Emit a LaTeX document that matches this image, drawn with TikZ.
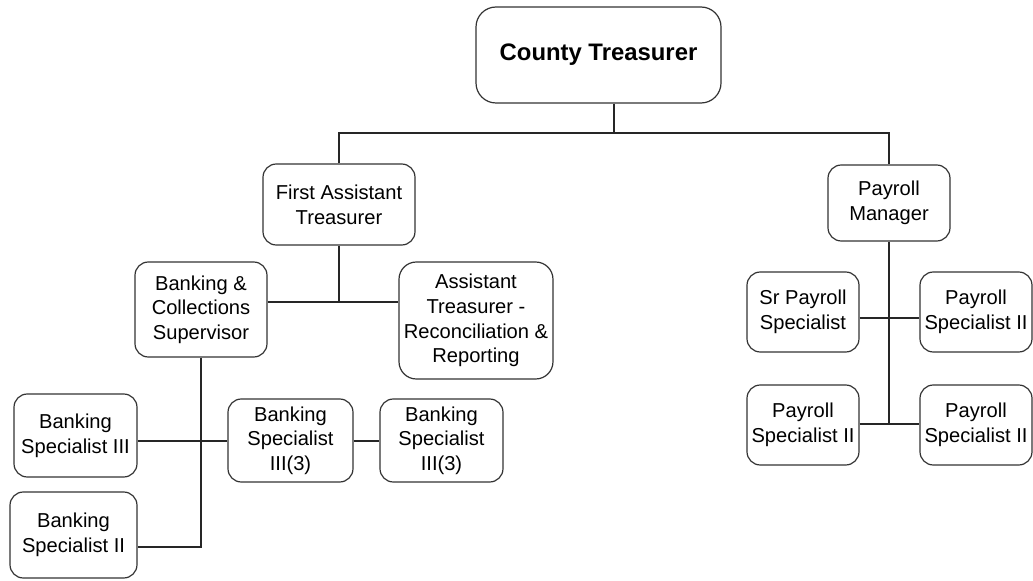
\documentclass[tikz,border=0pt]{standalone}
\usepackage{fontspec}
\setmainfont{Liberation Sans}
\begin{document}
\begin{tikzpicture}[x=0.75pt,y=-0.75pt,
  box/.style={draw=black!80, line width=0.9pt, rounded corners=10pt, fill=white,
    align=center, inner sep=1pt, font=\fontsize{15.1}{18.5}\selectfont},
  topbox/.style={box, rounded corners=15pt, font=\fontsize{17.9}{21}\selectfont\bfseries},
  link/.style={draw=black!85, line width=1.3pt}]
\useasboundingbox (0,0) rectangle (1033,581);

% positions
\node[topbox, minimum width=183.75pt, minimum height=72pt] (ct) at (598.5,55) {County Treasurer};
\node[box, minimum width=114pt, minimum height=60.75pt] (fat) at (339,204.5) {First Assistant\\Treasurer};
\node[box, minimum width=91.5pt, minimum height=57pt] (pm) at (889,203) {Payroll\\Manager};
\node[box, minimum width=99pt, minimum height=71.25pt] (bcs) at (201,309.5) {Banking \&\\Collections\\Supervisor};
\node[box, rounded corners=13pt, minimum width=115.5pt, minimum height=87.75pt] (at) at (476,320.5) {Assistant\\Treasurer -\\Reconciliation \&\\Reporting};
\node[box, minimum width=92.25pt, minimum height=62.25pt] (bs3) at (75.5,435.5) {Banking\\Specialist III};
\node[box, minimum width=95.25pt, minimum height=64.5pt] (bs2) at (73.5,535) {Banking\\Specialist II};
\node[box, minimum width=93.75pt, minimum height=62.25pt] (bs3a) at (290.5,440.5) {Banking\\Specialist\\III(3)};
\node[box, minimum width=92.25pt, minimum height=62.25pt] (bs3b) at (441.5,440.5) {Banking\\Specialist\\III(3)};
\node[box, minimum width=84pt, minimum height=60pt] (sps) at (803,312) {Sr Payroll\\Specialist};
\node[box, minimum width=84pt, minimum height=60pt] (ps1) at (976,312) {Payroll\\Specialist II};
\node[box, minimum width=84pt, minimum height=60pt] (ps2) at (803,425) {Payroll\\Specialist II};
\node[box, minimum width=84pt, minimum height=60pt] (ps3) at (976,425) {Payroll\\Specialist II};

% junction points
\coordinate (j0) at (614,133);
\coordinate (j1) at (339,302);
\coordinate (j2) at (201,547);
\coordinate (j3) at (201,441);
\coordinate (j4) at (889,318);
\coordinate (j5) at (889,424);

% connectors
\draw[link] (ct.south -| j0) -- (j0);
\draw[link] (fat.north) -- (fat.north |- j0) -- (pm.north |- j0) -- (pm.north);
\draw[link] (fat.south) -- (j1);
\draw[link] (bcs.east |- j1) -- (at.west |- j1);
\draw[link] (bcs.south) -- (j2) -- (bs2.east |- j2);
\draw[link] (bs3.east |- j3) -- (bs3a.west |- j3);
\draw[link] (bs3a.east |- j3) -- (bs3b.west |- j3);
\draw[link] (pm.south) -- (j5);
\draw[link] (sps.east |- j4) -- (ps1.west |- j4);
\draw[link] (ps2.east |- j5) -- (ps3.west |- j5);
\end{tikzpicture}
\end{document}
